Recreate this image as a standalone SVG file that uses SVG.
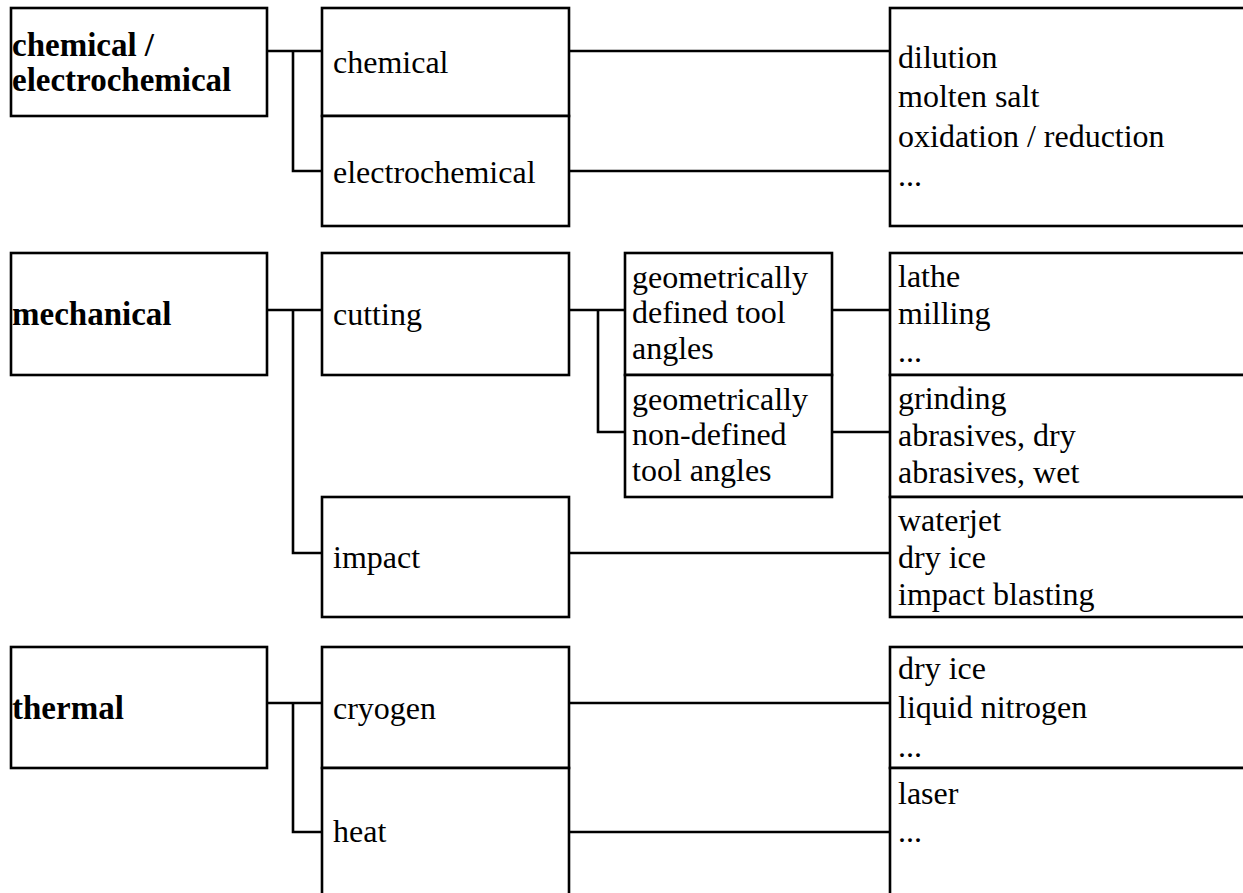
<svg xmlns="http://www.w3.org/2000/svg" width="1243" height="893" viewBox="0 0 1243 893">
<style>
  .box { fill: #fff; stroke: #000; stroke-width: 2.6; }
  .conn { fill: none; stroke: #000; stroke-width: 2.6; }
  text { font-family: "Liberation Serif", "Times New Roman", serif; font-size: 32px; fill: #000; }
  .b { font-weight: bold; font-size: 33px; }
</style>
<rect width="1243" height="893" fill="#fff"/>
<g id="connectors">
  <path class="conn" d="M267,51 H322 M293,51 V171 H322 M569,51 H890 M569,171 H890"/>
  <path class="conn" d="M267,310 H322 M293,310 V553 H322 M569,310 H625 M598,310 V432 H625 M832,310 H890 M832,432 H890 M569,553 H890"/>
  <path class="conn" d="M267,703 H322 M293,703 V832 H322 M569,703 H890 M569,832 H890"/>
</g>
<g id="n-chem-electrochem">
  <rect class="box" x="11" y="8" width="256" height="108"/>
  <text class="b" x="12" y="56">chemical /</text>
  <text class="b" x="12" y="91">electrochemical</text>
</g>
<g id="n-chemical">
  <rect class="box" x="322" y="8" width="247" height="108"/>
  <text x="333" y="73">chemical</text>
</g>
<g id="n-electrochemical">
  <rect class="box" x="322" y="116" width="247" height="110"/>
  <text x="333" y="183">electrochemical</text>
</g>
<g id="n-chem-examples">
  <rect class="box" x="890" y="8" width="400" height="218"/>
  <text x="898" y="68">dilution</text>
  <text x="898" y="107">molten salt</text>
  <text x="898" y="147">oxidation / reduction</text>
  <text x="898" y="186">...</text>
</g>
<g id="n-mechanical">
  <rect class="box" x="11" y="253" width="256" height="122"/>
  <text class="b" x="12" y="325">mechanical</text>
</g>
<g id="n-cutting">
  <rect class="box" x="322" y="253" width="247" height="122"/>
  <text x="333" y="325">cutting</text>
</g>
<g id="n-geo-defined">
  <rect class="box" x="625" y="253" width="207" height="122"/>
  <text x="632" y="288">geometrically</text>
  <text x="632" y="323">defined tool</text>
  <text x="632" y="359">angles</text>
</g>
<g id="n-geo-nondefined">
  <rect class="box" x="625" y="375" width="207" height="122"/>
  <text x="632" y="410">geometrically</text>
  <text x="632" y="445">non-defined</text>
  <text x="632" y="481">tool angles</text>
</g>
<g id="n-lathe">
  <rect class="box" x="890" y="253" width="400" height="122"/>
  <text x="898" y="287">lathe</text>
  <text x="898" y="324">milling</text>
  <text x="898" y="362">...</text>
</g>
<g id="n-grinding">
  <rect class="box" x="890" y="375" width="400" height="122"/>
  <text x="898" y="409">grinding</text>
  <text x="898" y="446">abrasives, dry</text>
  <text x="898" y="483">abrasives, wet</text>
</g>
<g id="n-impact">
  <rect class="box" x="322" y="497" width="247" height="120"/>
  <text x="333" y="568">impact</text>
</g>
<g id="n-waterjet">
  <rect class="box" x="890" y="497" width="400" height="120"/>
  <text x="898" y="531">waterjet</text>
  <text x="898" y="568">dry ice</text>
  <text x="898" y="605">impact blasting</text>
</g>
<g id="n-thermal">
  <rect class="box" x="11" y="647" width="256" height="121"/>
  <text class="b" x="12" y="719">thermal</text>
</g>
<g id="n-cryogen">
  <rect class="box" x="322" y="647" width="247" height="121"/>
  <text x="333" y="719">cryogen</text>
</g>
<g id="n-heat">
  <rect class="box" x="322" y="768" width="247" height="140"/>
  <text x="333" y="842">heat</text>
</g>
<g id="n-cryo-examples">
  <rect class="box" x="890" y="647" width="400" height="121"/>
  <text x="898" y="679">dry ice</text>
  <text x="898" y="718">liquid nitrogen</text>
  <text x="898" y="757">...</text>
</g>
<g id="n-heat-examples">
  <rect class="box" x="890" y="768" width="400" height="140"/>
  <text x="898" y="804">laser</text>
  <text x="898" y="842">...</text>
</g>
</svg>
